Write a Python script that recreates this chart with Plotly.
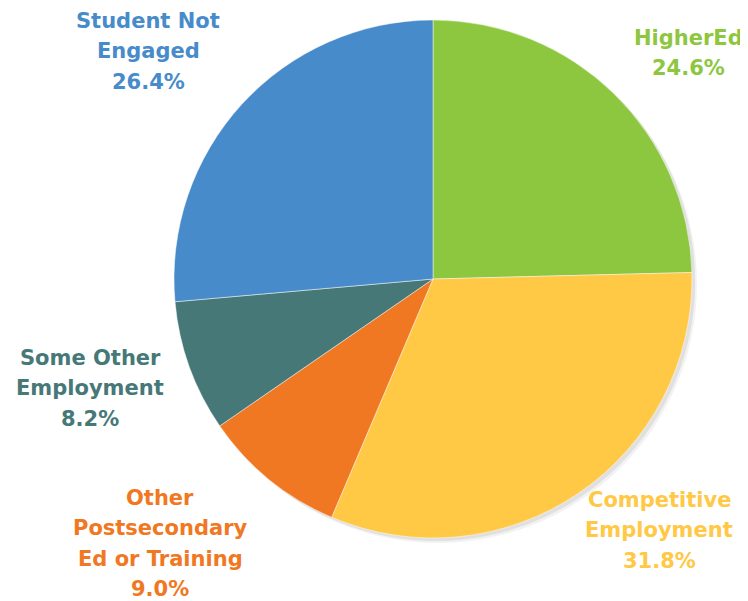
import plotly.graph_objects as go

categories = ["HigherEd", "Competitive Employment", "Other Postsecondary Ed or Training",
              "Some Other Employment", "Student Not Engaged"]
values = [24.6, 31.8, 9.0, 8.2, 26.4]
colors = ["#8DC63F", "#FFC845", "#F07822", "#467878", "#478BCA"]

# label lines, and where each label block sits (page pixels: centre x, first line y)
label_lines = [["HigherEd"], ["Competitive", "Employment"], ["Other", "Postsecondary", "Ed or Training"],
               ["Some Other", "Employment"], ["Student Not", "Engaged"]]
label_pos = [(688, 37), (659, 499), (160, 497), (90, 357), (148, 20)]
LINE = 30.3

# the page body has an 8px margin, so shrink the figure and shift everything by 8
OFF = 8
W, H = 748 - OFF, 601 - OFF
cx, cy, r = 433 - OFF, 279 - OFF, 259


def dom(dx=0, dy=0):
    return dict(x=[(cx + dx - r) / W, (cx + dx + r) / W],
                y=[(H - cy - dy - r) / H, (H - cy - dy + r) / H])


fig = go.Figure()
# soft shadow behind the pie
for d, a in [(5, 0.05), (3, 0.07)]:
    fig.add_trace(go.Pie(values=[1], sort=False, textinfo="none", hoverinfo="skip", showlegend=False,
                         marker=dict(colors=[f"rgba(0,0,0,{a})"]), domain=dom(d, d)))

fig.add_trace(go.Pie(
    labels=categories, values=values, sort=False, direction="clockwise", rotation=0,
    marker=dict(colors=colors, line=dict(color="rgba(255,255,255,0.6)", width=0.8)),
    textinfo="none", hoverinfo="label+percent", showlegend=False,
    domain=dom(),
))

for lines, val, col, (px, py) in zip(label_lines, values, colors, label_pos):
    for i, t in enumerate(lines + [f"{val:.1f}%"]):
        fig.add_annotation(
            x=(px - OFF) / W, y=1 - (py + i * LINE + 1 - OFF) / H, xref="paper", yref="paper",
            text=t, showarrow=False, align="center",
            xanchor="center", yanchor="middle",
            font=dict(family="DejaVu Sans", size=21, color=col, weight="bold"),
        )

fig.update_layout(
    width=W, height=H, margin=dict(l=0, r=0, t=0, b=0),
    paper_bgcolor="white", plot_bgcolor="white",
)

fig.write_html("out.html")
